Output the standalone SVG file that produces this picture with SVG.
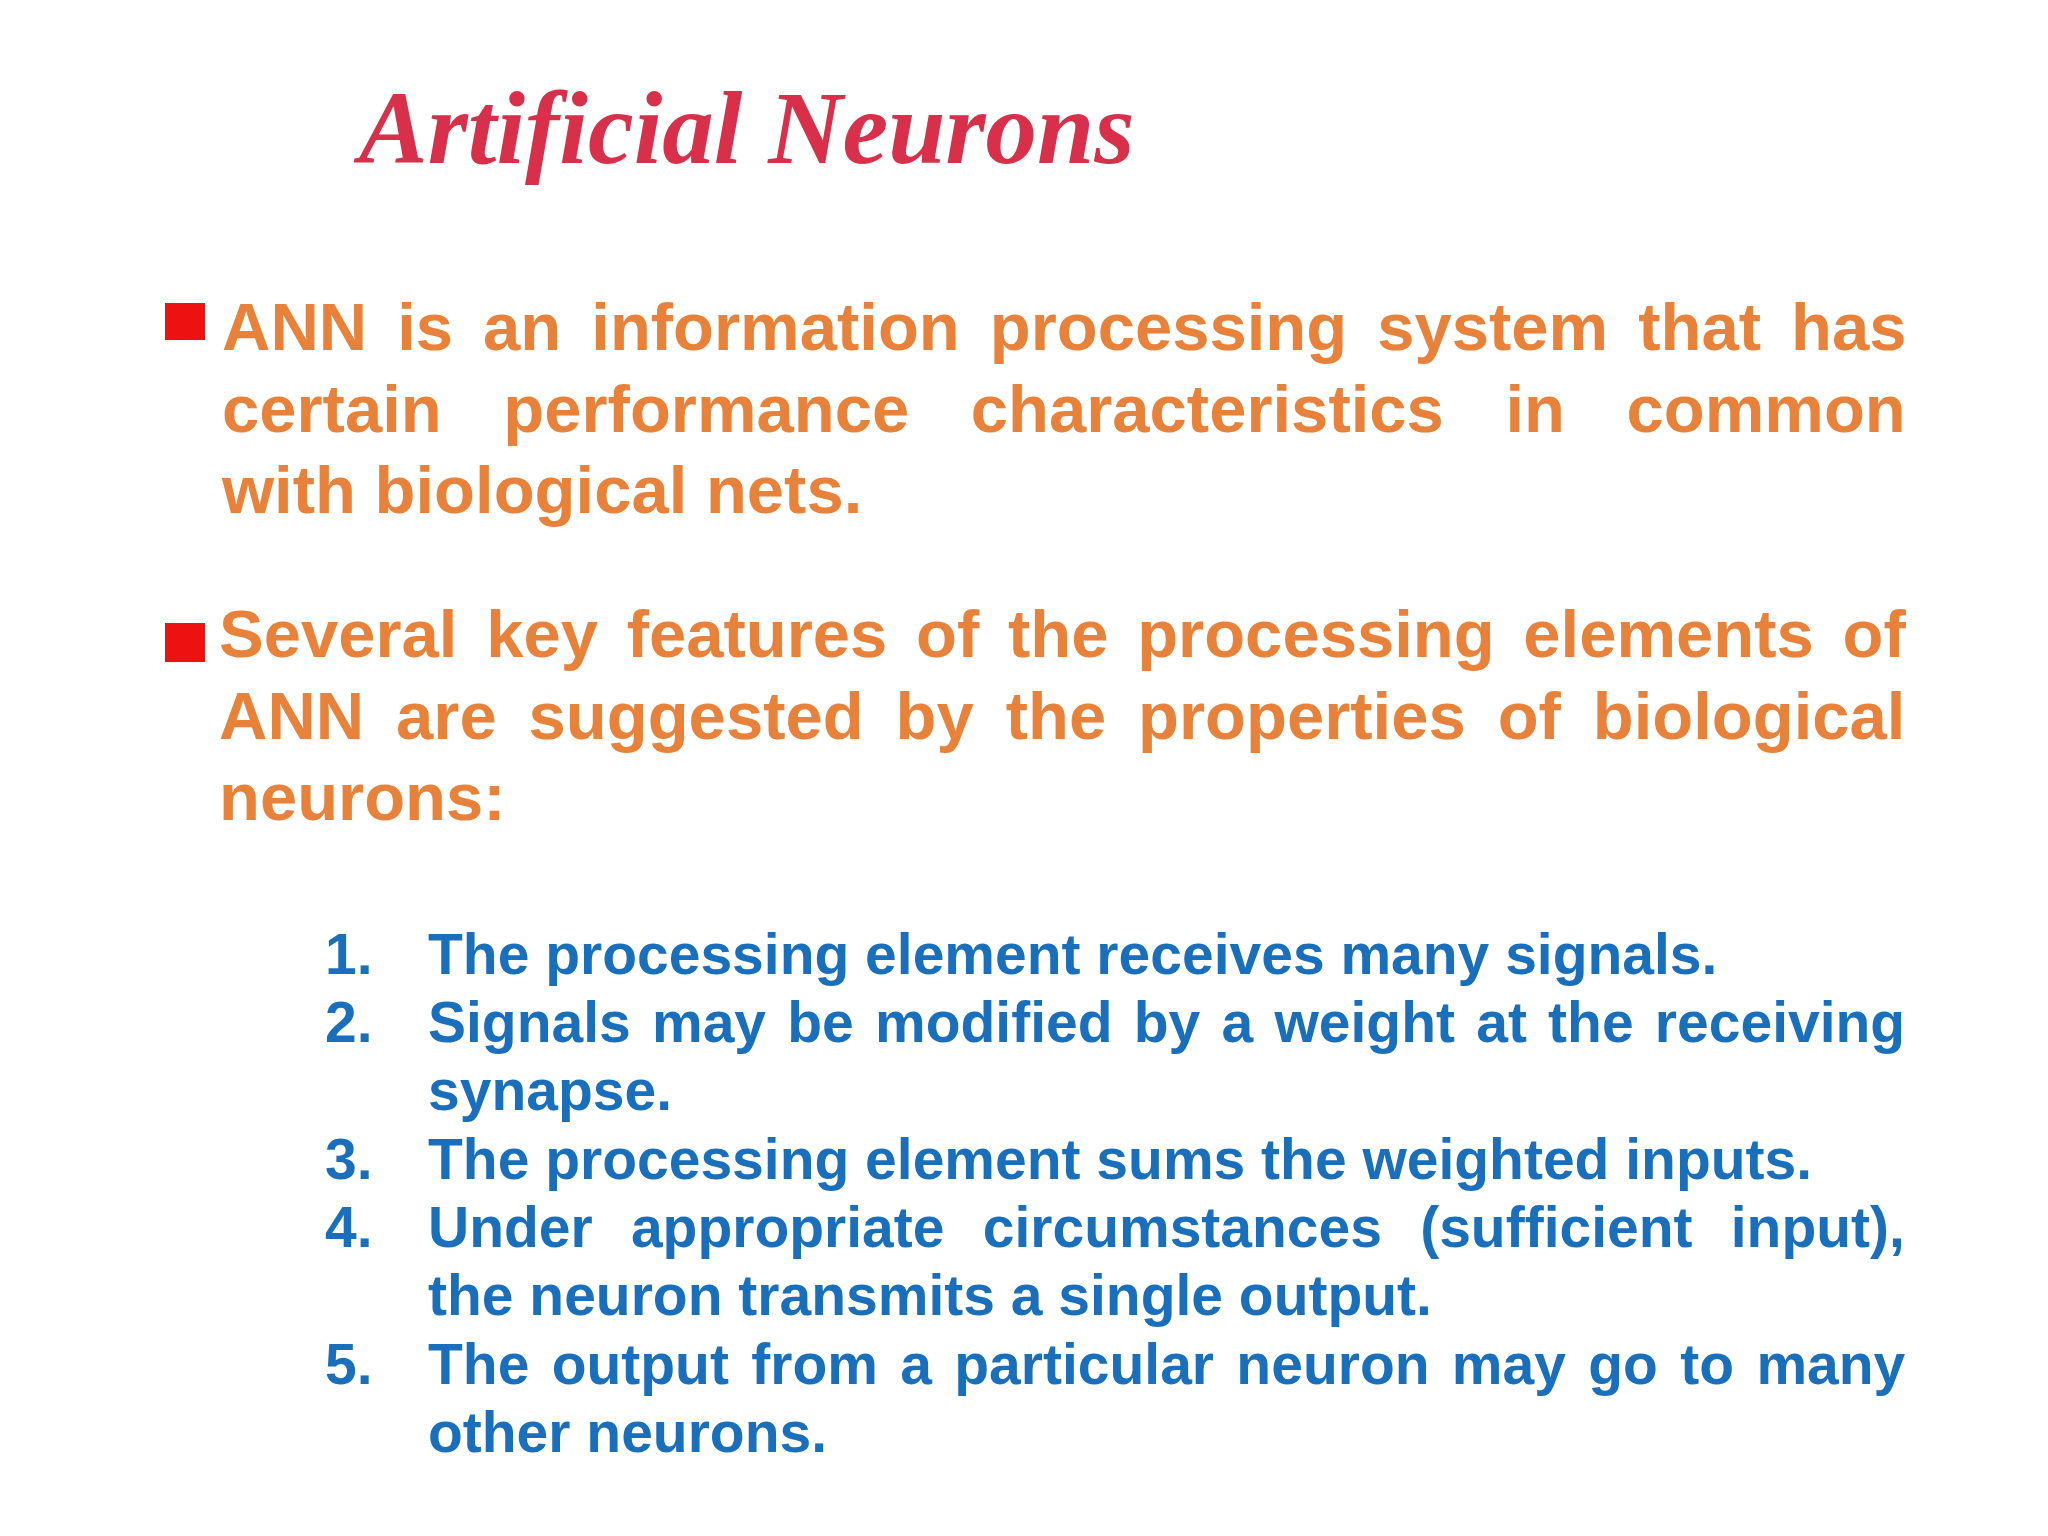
<svg xmlns="http://www.w3.org/2000/svg" width="2048" height="1536" viewBox="0 0 2048 1536">
<style>
.t{font-family:"Liberation Serif",serif;font-style:italic;font-weight:bold;font-size:103px;fill:#d8304a}
.o{font-family:"Liberation Sans",Arial,sans-serif;font-weight:bold;font-size:67px;fill:#e8823a}
.b{font-family:"Liberation Sans",Arial,sans-serif;font-weight:bold;font-size:57px;fill:#1a6fbd}
.sq{fill:#ee1111}
</style>
<rect width="2048" height="1536" fill="#ffffff"/>
<text class="t" x="359" y="163">Artificial Neurons</text>
<g id="bullet1">
<rect class="sq" x="165" y="303" width="40" height="37"/>
<text class="o" x="222" y="350" word-spacing="11.4">ANN is an information processing system that has</text>
<text class="o" x="222" y="432" word-spacing="43">certain performance characteristics in common</text>
<text class="o" x="222" y="513">with biological nets.</text>
</g>
<g id="bullet2">
<rect class="sq" x="165" y="623" width="40" height="39"/>
<text class="o" x="219" y="657" word-spacing="10.1">Several key features of the processing elements of</text>
<text class="o" x="219" y="739" word-spacing="13.3">ANN are suggested by the properties of biological</text>
<text class="o" x="219" y="820">neurons:</text>
</g>
<g id="list">
<text class="b" x="325" y="974">1.</text>
<text class="b" x="428" y="974">The processing element receives many signals.</text>
<text class="b" x="325" y="1042">2.</text>
<text class="b" x="428" y="1042" word-spacing="5.4">Signals may be modified by a weight at the receiving</text>
<text class="b" x="428" y="1110">synapse.</text>
<text class="b" x="325" y="1179">3.</text>
<text class="b" x="428" y="1179">The processing element sums the weighted inputs.</text>
<text class="b" x="325" y="1247">4.</text>
<text class="b" x="428" y="1247" word-spacing="22.4">Under appropriate circumstances (sufficient input),</text>
<text class="b" x="428" y="1315">the neuron transmits a single output.</text>
<text class="b" x="325" y="1384">5.</text>
<text class="b" x="428" y="1384" word-spacing="6.5">The output from a particular neuron may go to many</text>
<text class="b" x="428" y="1452">other neurons.</text>
</g>
</svg>
